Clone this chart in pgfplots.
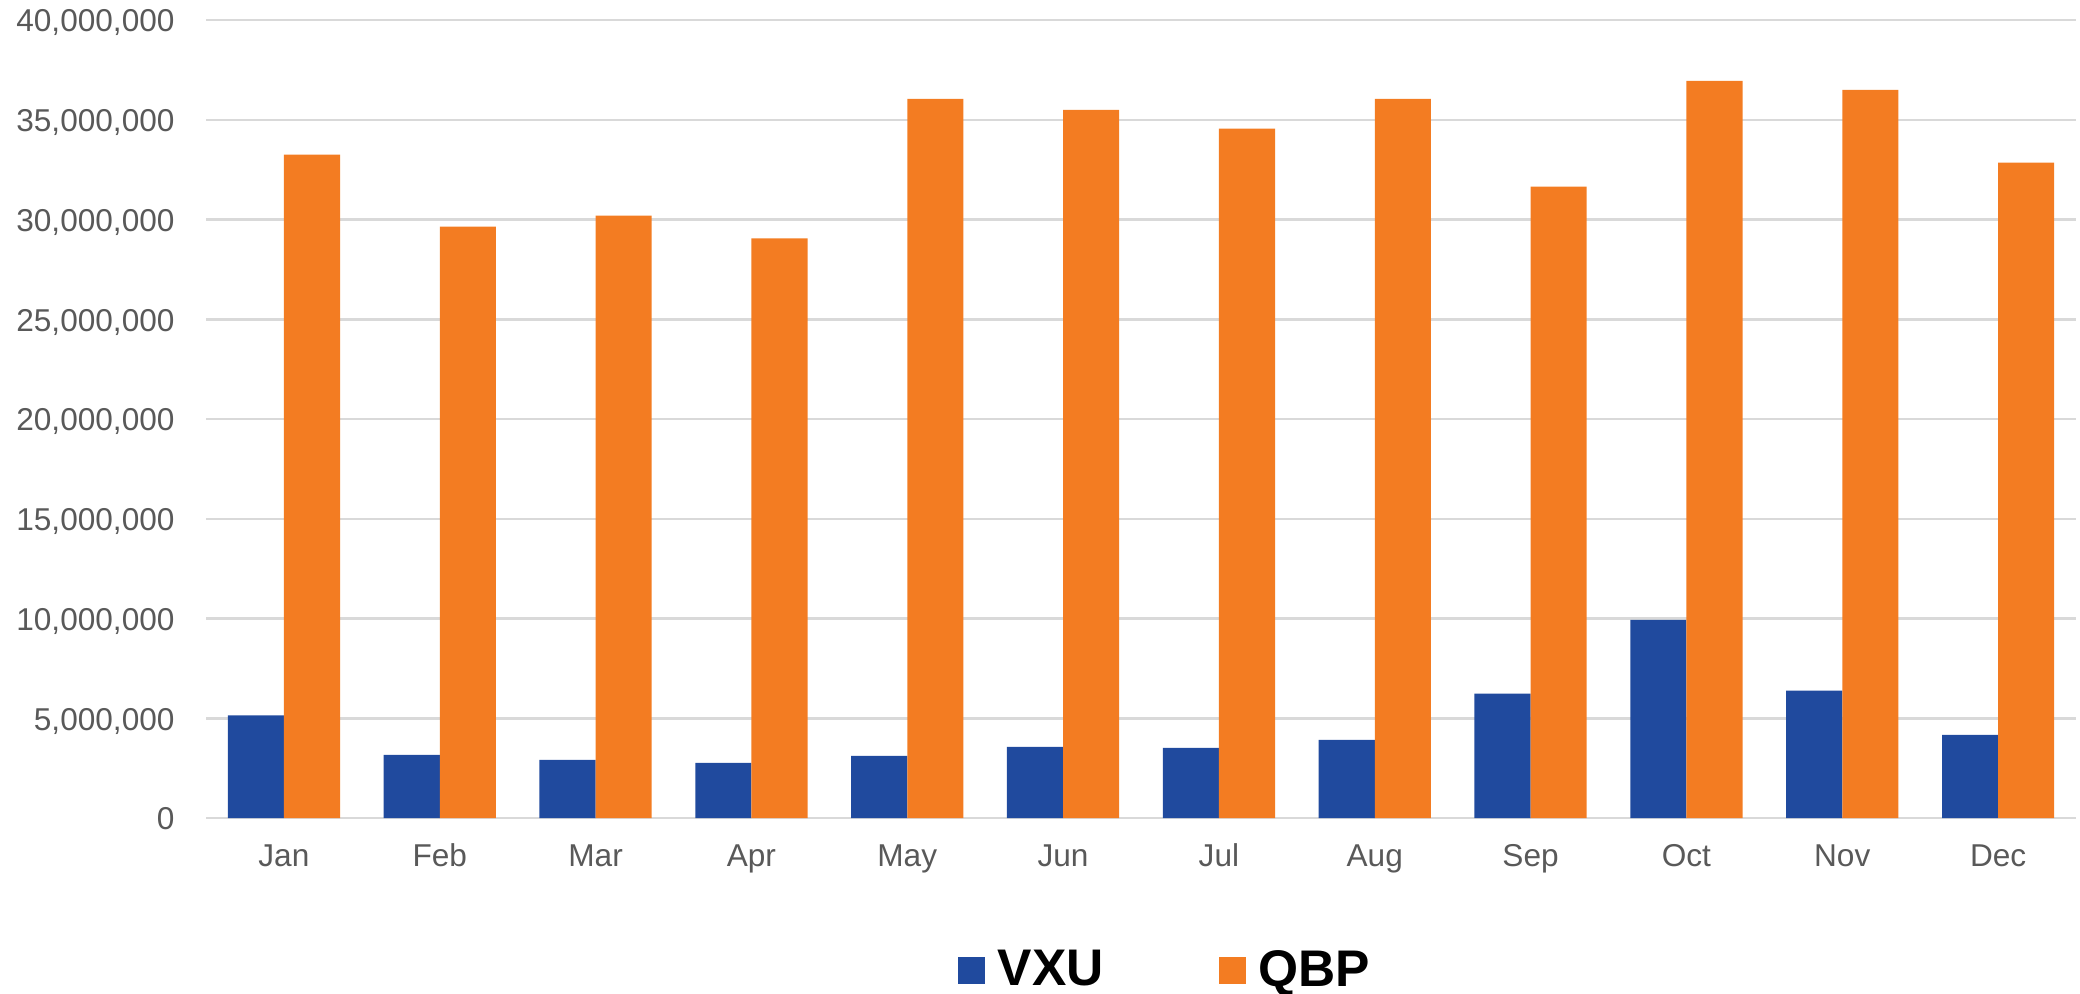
\documentclass[border=0pt]{standalone}
\usepackage{pgfplots}
\pgfplotsset{compat=1.18}
\usepackage{fontspec}
\setmainfont{Liberation Sans}
\definecolor{vxu}{RGB}{32,74,158}
\definecolor{qbp}{RGB}{243,124,34}
\definecolor{gridc}{RGB}{217,217,217}
\definecolor{labc}{RGB}{89,89,89}
\begin{document}
\begin{tikzpicture}
\path[use as bounding box] (0,0) rectangle (832pt,-397.2pt);
\begin{axis}[
  at={(82.4pt,-327.2pt)}, anchor=south west,
  scale only axis, width=748pt, height=319.2pt,
  ybar,
  xmin=-0.5, xmax=11.5, ymin=0, ymax=40000000,
  enlargelimits=false,
  axis line style={draw=none},
  tick style={draw=none}, major tick length=0pt,
  ymajorgrids, grid style={gridc, line width=1pt},
  xtick={0,1,2,3,4,5,6,7,8,9,10,11},
  xticklabels={Jan,Feb,Mar,Apr,May,Jun,Jul,Aug,Sep,Oct,Nov,Dec},
  ytick={0,5000000,10000000,15000000,20000000,25000000,30000000,35000000,40000000},
  yticklabels={0,{5,000,000},{10,000,000},{15,000,000},{20,000,000},{25,000,000},{30,000,000},{35,000,000},{40,000,000}},
  scaled y ticks=false,
  ticklabel style={font=\fontsize{12.64}{15}\selectfont, text=labc, inner sep=0pt},
  yticklabel style={anchor=base east, xshift=-12.4pt, yshift=-4.7pt},
  xticklabel style={anchor=base, yshift=-19.5pt},
  legend columns=2,
  legend style={at={(0.5123,-0.1905)}, anchor=center, draw=none, fill=none, inner sep=0pt,
    font=\fontsize{20.6}{24}\selectfont\bfseries,
    nodes={inner sep=0pt},
    /tikz/every odd column/.append style={column sep=5.2pt},
    /tikz/every even column/.append style={column sep=46pt}},
]
\addplot[fill=vxu, draw=none, bar width=0.36, bar shift=-0.18,
  legend image code/.code={\fill[vxu] (0pt,-5.4pt) rectangle (10.8pt,5.4pt);}]
  coordinates {(0,5150000) (1,3170000) (2,2920000) (3,2770000) (4,3120000) (5,3570000)
  (6,3520000) (7,3920000) (8,6230000) (9,9930000) (10,6380000) (11,4170000)};
\addplot[fill=qbp, draw=none, bar width=0.36, bar shift=0.18,
  legend image code/.code={\fill[qbp] (0pt,-5.4pt) rectangle (10.8pt,5.4pt);}]
  coordinates {(0,33250000) (1,29650000) (2,30200000) (3,29050000) (4,36050000) (5,35500000)
  (6,34550000) (7,36050000) (8,31650000) (9,36950000) (10,36500000) (11,32850000)};
\legend{VXU,QBP}
\end{axis}
\end{tikzpicture}
\end{document}
